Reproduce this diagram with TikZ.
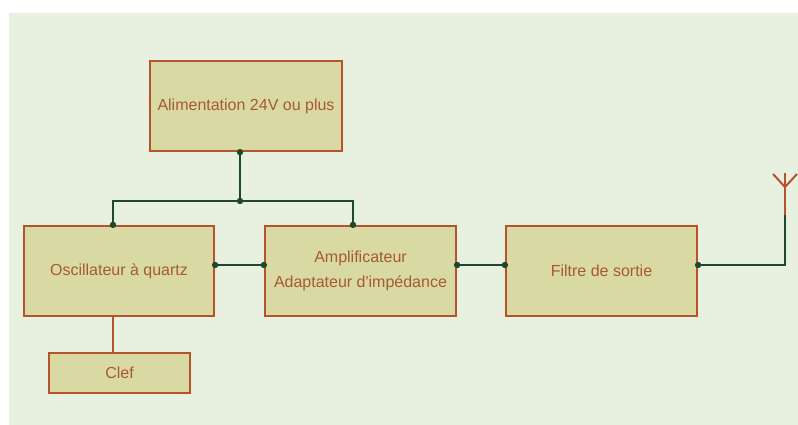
\documentclass[tikz,border=0pt]{standalone}
\usepackage{fontspec}
\setmainfont{Liberation Sans}
\usetikzlibrary{positioning}

\definecolor{bgcol}{HTML}{E8F0E0}
\definecolor{boxfill}{HTML}{D9D9A4}
\definecolor{boxline}{HTML}{B5532F}
\definecolor{boxtext}{HTML}{A85A30}
\definecolor{wirecol}{HTML}{1E4A2A}

\begin{document}
\begin{tikzpicture}[x=1pt,y=-1pt,
    block/.style={draw=boxline, fill=boxfill, line width=2.2pt, text=boxtext,
      minimum width=191pt, minimum height=90pt, inner sep=0pt,
      font=\fontsize{16}{25}\selectfont, align=center},
    wire/.style={draw=wirecol, line width=2pt},
    lead/.style={draw=boxline, line width=2pt}]
  \useasboundingbox (0,0) rectangle (798,425);
  \fill[bgcol] (9,13) rectangle (798,425);

  % blocks
  \node[block, minimum width=192pt] (alim) at (246,106) {Alimentation 24V ou plus};
  \node[block, minimum width=190pt] (osc) at (119,271) {Oscillateur à quartz};
  \node[block] (ampli) at (360.5,271) {Amplificateur\\Adaptateur d\textquotesingle impédance};
  \node[block] (filtre) at (601.5,271) {Filtre de sortie};
  \node[block, minimum width=141pt, minimum height=40pt] (clef) at (119.5,373) {Clef};

  % connection points
  \coordinate (jct) at (240,201);
  \coordinate (a0) at (alim.south -| jct);
  \coordinate (o0) at ([xshift=-6pt]osc.north);
  \coordinate (m0) at ([xshift=-7.5pt]ampli.north);
  \coordinate (o1) at ([yshift=6pt]osc.east);
  \coordinate (m1) at ([yshift=6pt]ampli.west);
  \coordinate (m2) at ([yshift=6pt]ampli.east);
  \coordinate (f1) at ([yshift=6pt]filtre.west);
  \coordinate (f2) at ([yshift=6pt]filtre.east);
  \coordinate (ant) at (785,215);
  \coordinate (anttop) at (785,173);

  % supply
  \draw[wire] (a0) -- (jct);
  \draw[wire] (o0) |- (jct) -| (m0);

  % signal chain
  \draw[wire] (o1) -- (m1);
  \draw[wire] (m2) -- (f1);
  \draw[wire] (f2) -| (ant);

  % key
  \draw[lead] ([xshift=-6pt]osc.south) -- ([xshift=-6.5pt]clef.north);

  % antenna
  \draw[lead] (ant) -- (anttop);
  \draw[lead] (773,174) -- (785,187) -- (797,174);

  \foreach \p in {a0,jct,o0,m0,o1,m1,m2,f1,f2}
    \fill[wirecol] (\p) circle (3.2pt);
\end{tikzpicture}
\end{document}
